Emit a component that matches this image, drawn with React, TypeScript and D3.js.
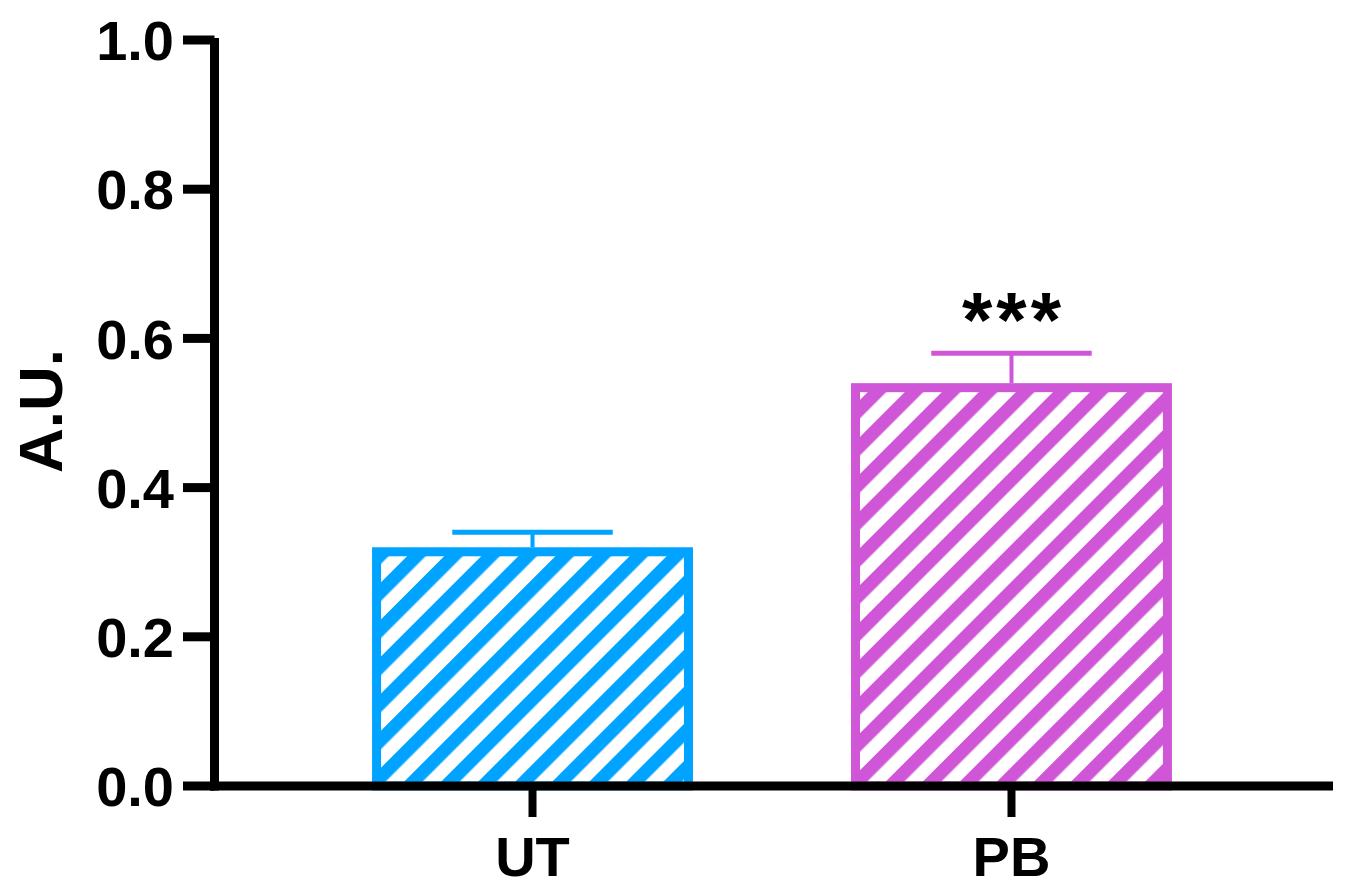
import React from 'react';
import * as d3 from 'd3';

const groups = ['UT', 'PB'];
const means = [0.32, 0.54];
const sems = [0.02, 0.04];
const colors = ['#00A3FF', '#D056D8'];
const yTicks = [0, 0.2, 0.4, 0.6, 0.8, 1.0];
const marks = ['', '***'];

const W = 1350;
const H = 892;
const font = '"Liberation Sans", Arial, sans-serif';

const App = () => {
  const y = d3.scaleLinear().domain([0, 1]).range([786, 40]);
  const x = d3.scaleBand<string>().domain(groups).range([214, 1330]).paddingInner(0.33).paddingOuter(0.33);
  const axisX = 214.5;
  const axisY = y(0);
  const bw = x.bandwidth();
  const sw = 9;

  return (
    <svg width={W} height={H} style={{ position: 'absolute', left: 0, top: 0 }}>
      <defs>
        {groups.map((g, i) => (
          <pattern
            key={g}
            id={`hatch-${i}`}
            patternUnits="userSpaceOnUse"
            width={26.2}
            height={26.2}
            patternTransform="rotate(45)"
          >
            <rect width={26.2} height={26.2} fill="#fff" />
            <rect width={13.1} height={26.2} fill={colors[i]} />
          </pattern>
        ))}
      </defs>

      {/* bars with upper error bars */}
      {groups.map((g, i) => {
        const x0 = x(g)!;
        const cx = x0 + bw / 2;
        const top = y(means[i]);
        const errTop = y(means[i] + sems[i]);
        return (
          <g key={g}>
            <line x1={cx} x2={cx} y1={top} y2={errTop} stroke={colors[i]} strokeWidth={4} />
            <line x1={cx - bw / 4} x2={cx + bw / 4} y1={errTop} y2={errTop} stroke={colors[i]} strokeWidth={5} />
            <rect
              x={x0 + sw / 2}
              y={top + sw / 2}
              width={bw - sw}
              height={axisY - top - sw / 2}
              fill={`url(#hatch-${i})`}
              stroke={colors[i]}
              strokeWidth={sw}
            />
            {marks[i] && (
              <text
                x={cx + 2}
                y={errTop - 6}
                textAnchor="middle"
                fontFamily={font}
                fontWeight="bold"
                fontSize={78}
                letterSpacing={4}
              >
                {marks[i]}
              </text>
            )}
          </g>
        );
      })}

      {/* y axis */}
      <line x1={axisX} x2={axisX} y1={y(1) - 2} y2={axisY + 4.5} stroke="#000" strokeWidth={9} />
      {yTicks.map((t) => (
        <g key={t}>
          <line x1={183} x2={axisX} y1={y(t)} y2={y(t)} stroke="#000" strokeWidth={9} />
          <text
            x={174}
            y={y(t)}
            dy="0.36em"
            textAnchor="end"
            fontFamily={font}
            fontWeight="bold"
            fontSize={56}
          >
            {t.toFixed(1)}
          </text>
        </g>
      ))}
      <text
        transform={`translate(62,411) rotate(-90)`}
        textAnchor="middle"
        fontFamily={font}
        fontWeight="bold"
        fontSize={62}
      >
        A.U.
      </text>

      {/* x axis */}
      <line x1={axisX - 4.5} x2={1333} y1={axisY} y2={axisY} stroke="#000" strokeWidth={9} />
      {groups.map((g) => {
        const cx = x(g)! + bw / 2;
        return (
          <g key={g}>
            <line x1={cx} x2={cx} y1={axisY} y2={817} stroke="#000" strokeWidth={8} />
            <text x={cx} y={876} textAnchor="middle" fontFamily={font} fontWeight="bold" fontSize={56}>
              {g}
            </text>
          </g>
        );
      })}
    </svg>
  );
};

export default App;
